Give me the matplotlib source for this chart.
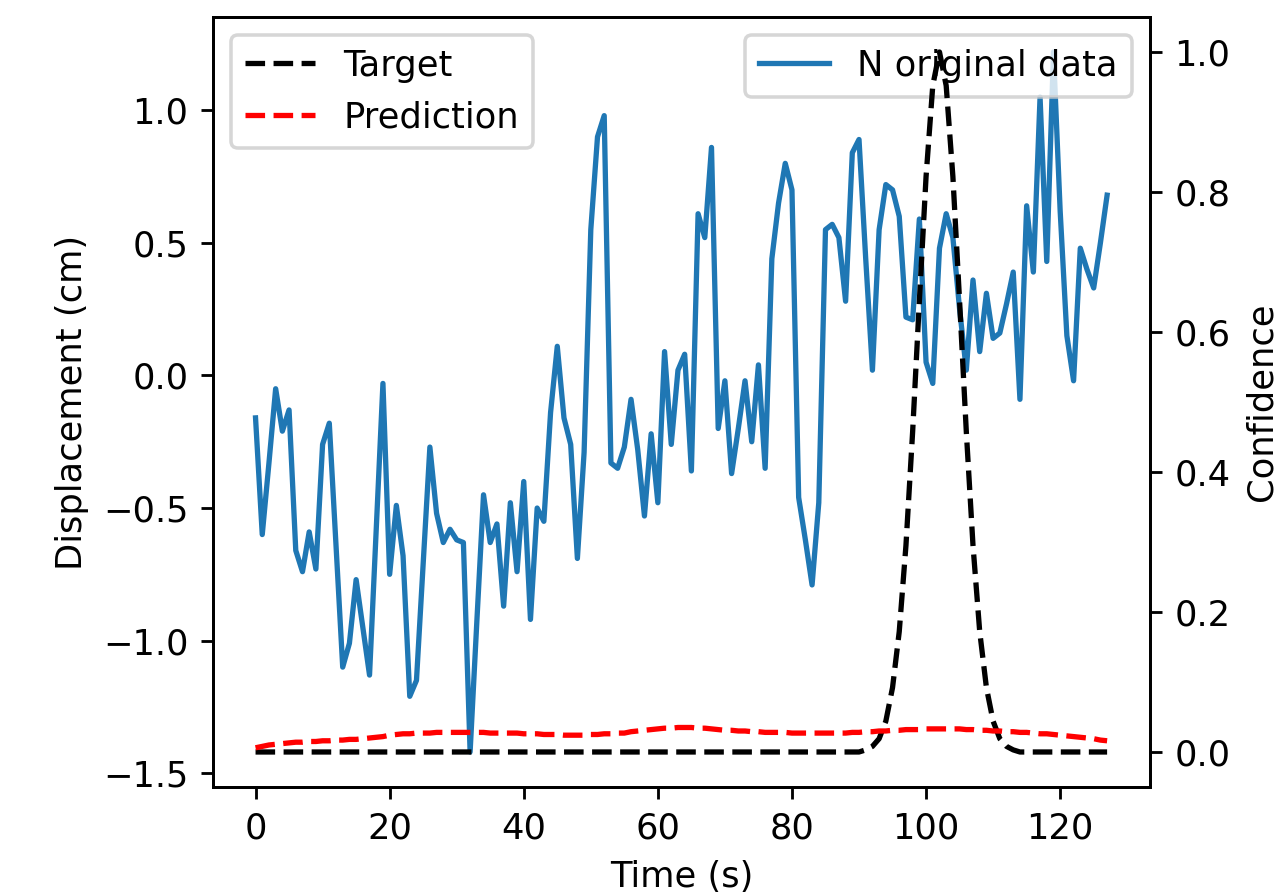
#!/usr/bin/env python3

import numpy as np
import matplotlib
matplotlib.use('Agg')
import matplotlib.pyplot as plt

# measured displacement, one sample per second
displacement = [
    -0.16, -0.60, -0.33, -0.05, -0.21, -0.13, -0.66, -0.74, -0.59, -0.73,
    -0.26, -0.18, -0.64, -1.10, -1.01, -0.77, -0.95, -1.13, -0.58, -0.03,
    -0.75, -0.49, -0.68, -1.21, -1.15, -0.71, -0.27, -0.52, -0.63, -0.58,
    -0.62, -0.63, -1.42, -0.93, -0.45, -0.63, -0.56, -0.87, -0.48, -0.74,
    -0.40, -0.92, -0.50, -0.55, -0.14, 0.11, -0.16, -0.26, -0.69, -0.29,
    0.55, 0.90, 0.98, -0.33, -0.35, -0.27, -0.09, -0.28, -0.53, -0.22,
    -0.48, 0.09, -0.26, 0.02, 0.08, -0.36, 0.61, 0.52, 0.86, -0.20,
    -0.02, -0.37, -0.20, -0.02, -0.25, 0.04, -0.35, 0.44, 0.65, 0.80,
    0.70, -0.46, -0.62, -0.79, -0.48, 0.55, 0.57, 0.52, 0.28, 0.84,
    0.89, 0.44, 0.02, 0.55, 0.72, 0.70, 0.60, 0.22, 0.21, 0.59,
    0.05, -0.03, 0.48, 0.61, 0.52, 0.25, 0.02, 0.36, 0.09, 0.31,
    0.14, 0.16, 0.27, 0.39, -0.09, 0.64, 0.39, 1.05, 0.43, 1.22,
    0.62, 0.15, -0.02, 0.48, 0.40, 0.33, 0.50, 0.68,
]

# target confidence: zero everywhere except the event window
target = [0.0] * 91 + [
    0.003, 0.008, 0.019, 0.044, 0.092, 0.172, 0.295, 0.458, 0.644, 0.822,
    0.952, 1.0, 0.952, 0.822, 0.644, 0.458, 0.295, 0.172, 0.092, 0.044,
    0.019, 0.008, 0.003,
] + [0.0] * 14

# model output confidence
prediction = [
    0.006, 0.008, 0.010, 0.011, 0.012, 0.013, 0.014, 0.014, 0.015, 0.015,
    0.016, 0.016, 0.017, 0.017, 0.018, 0.018, 0.019, 0.020, 0.021, 0.022,
    0.024, 0.025, 0.026, 0.026, 0.027, 0.027, 0.027, 0.028, 0.028, 0.028,
    0.028, 0.028, 0.028, 0.028, 0.028, 0.027, 0.027, 0.027, 0.027, 0.027,
    0.026, 0.026, 0.026, 0.025, 0.025, 0.025, 0.024, 0.024, 0.024, 0.024,
    0.025, 0.025, 0.026, 0.026, 0.027, 0.027, 0.029, 0.030, 0.031, 0.032,
    0.033, 0.034, 0.034, 0.035, 0.035, 0.035, 0.034, 0.034, 0.033, 0.032,
    0.031, 0.031, 0.030, 0.030, 0.029, 0.029, 0.028, 0.028, 0.028, 0.028,
    0.027, 0.027, 0.027, 0.027, 0.027, 0.027, 0.027, 0.027, 0.027, 0.028,
    0.028, 0.029, 0.029, 0.030, 0.030, 0.031, 0.031, 0.032, 0.032, 0.032,
    0.033, 0.033, 0.033, 0.033, 0.033, 0.033, 0.032, 0.032, 0.031, 0.031,
    0.030, 0.030, 0.029, 0.029, 0.028, 0.028, 0.027, 0.026, 0.026, 0.025,
    0.024, 0.023, 0.022, 0.021, 0.020, 0.019, 0.017, 0.016,
]

t = np.arange(len(displacement))

DPI = 254
fig = plt.figure(figsize=(1286 / DPI, 894 / DPI), dpi=DPI)
ax = fig.add_axes([0.1656, 0.1197, 0.7284, 0.8613])
ax.plot(t, displacement, color='tab:blue', label='N original data')
ax.set_xlabel('Time (s)')
ax.set_ylabel('Displacement (cm)')
ax.legend(loc='upper right')

ax2 = ax.twinx()
ax2.plot(t, target, 'k--', label='Target')
ax2.plot(t, prediction, 'r--', label='Prediction')
ax2.set_ylabel('Confidence')
ax2.legend(loc='upper left')

fig.savefig('out.png', dpi=DPI)
